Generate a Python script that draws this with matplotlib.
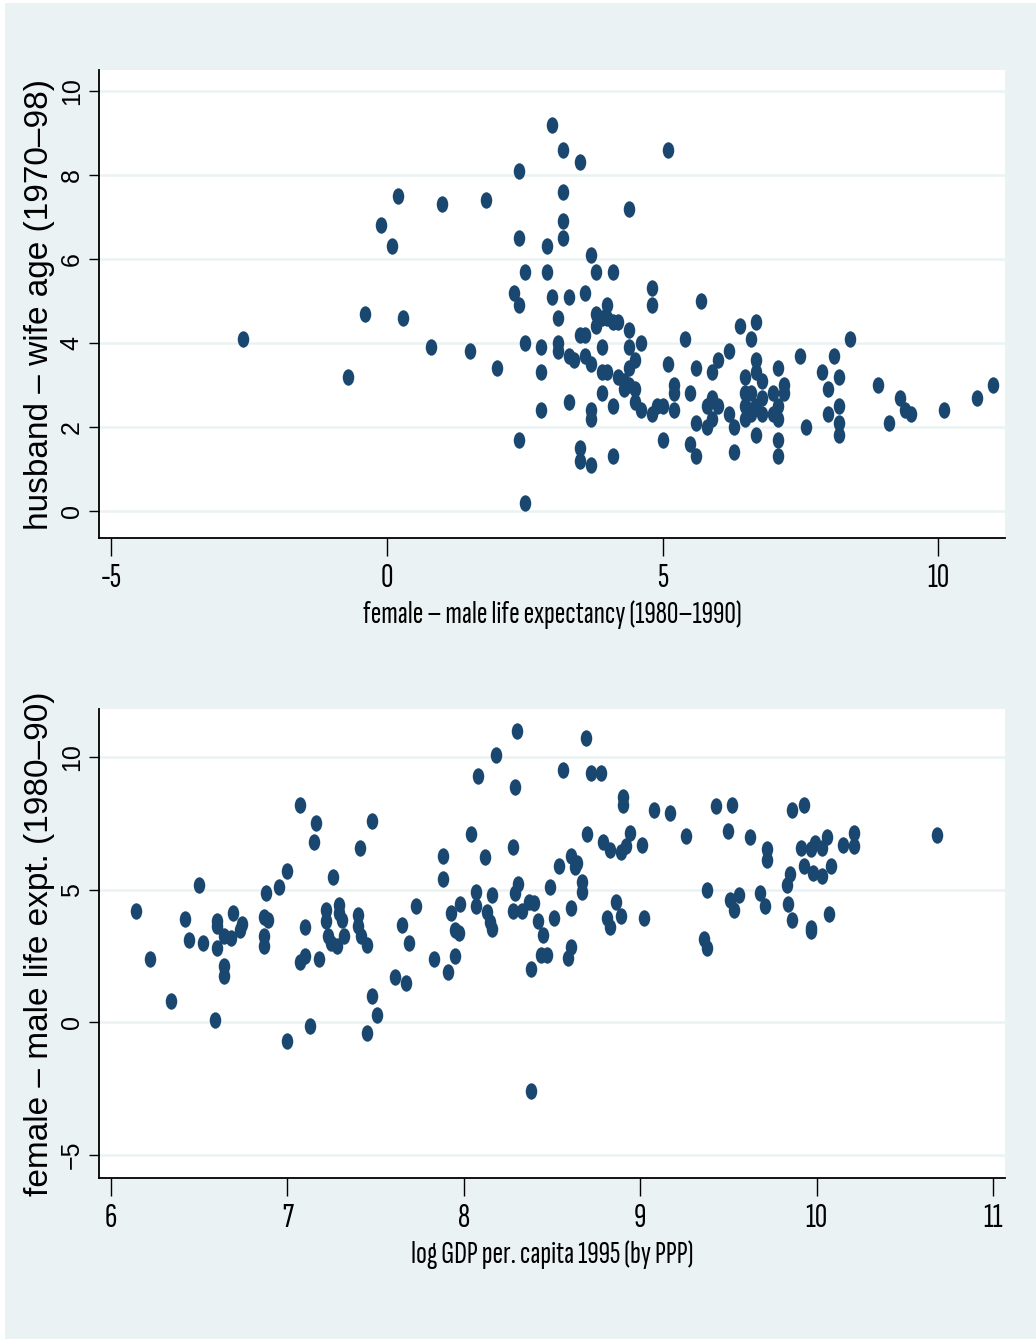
import matplotlib
matplotlib.use('Agg')
import matplotlib.pyplot as plt
from matplotlib.path import Path
from matplotlib.transforms import Affine2D
from matplotlib.patches import Rectangle
from matplotlib import font_manager as fm
from matplotlib.font_manager import FontProperties
from matplotlib.textpath import TextPath

# ---------------- data ----------------
# top panel: female - male life expectancy (x) vs husband - wife age gap (y)
lifeexp_gap_top = [
    -2.6, -0.7, -0.4, -0.1, 0.1, 0.2, 0.3, 0.8, 1.0, 1.5,
    1.8, 2.0, 2.3, 2.4, 2.4, 2.4, 2.5, 2.5, 2.4, 2.5,
    2.8, 2.8, 2.8, 2.9, 2.9, 3.0, 3.0, 3.1, 3.1, 3.1,
    3.2, 3.2, 3.2, 3.2, 3.3, 3.3, 3.3, 3.4, 3.5, 3.5,
    3.5, 3.5, 3.6, 3.6, 3.6, 3.7, 3.7, 3.7, 3.7, 3.8,
    3.8, 3.8, 3.7, 3.9, 3.9, 3.9, 3.9, 4.0, 4.0, 4.1,
    4.1, 4.1, 4.1, 4.2, 4.2, 4.3, 4.3, 4.4, 4.4, 4.4,
    4.4, 4.4, 4.5, 4.5, 4.6, 4.5, 4.6, 4.8, 4.8, 4.8,
    4.9, 5.0, 5.0, 5.1, 5.1, 5.2, 5.2, 5.2, 5.4, 5.5,
    5.5, 5.6, 5.6, 5.6, 5.7, 5.8, 5.8, 5.9, 5.9, 6.0,
    6.0, 5.9, 6.2, 6.2, 6.3, 6.3, 6.4, 6.5, 6.5, 6.5,
    6.5, 6.6, 6.6, 6.6, 6.7, 6.7, 6.7, 6.7, 6.7, 6.8,
    6.8, 6.8, 7.0, 7.0, 7.1, 7.1, 7.1, 7.1, 7.2, 7.2,
    7.5, 7.6, 7.9, 8.0, 8.0, 8.1, 8.2, 8.2, 8.2, 8.2,
    8.4, 8.9, 9.1, 9.3, 9.4, 9.5, 10.1, 10.7, 11.0,
    4.0, 6.6, 7.1,
]
age_gap = [
    4.1, 3.2, 4.7, 6.8, 6.3, 7.5, 4.6, 3.9, 7.3, 3.8,
    7.4, 3.4, 5.2, 4.9, 8.1, 6.5, 5.7, 4.0, 1.7, 0.2,
    3.9, 3.3, 2.4, 6.3, 5.7, 9.2, 5.1, 4.6, 4.0, 3.8,
    8.6, 7.6, 6.9, 6.5, 5.1, 3.7, 2.6, 3.6, 8.3, 4.2,
    1.5, 1.2, 5.2, 4.2, 3.7, 6.1, 2.4, 2.2, 1.1, 5.7,
    4.7, 4.4, 3.5, 4.6, 3.9, 3.3, 2.8, 4.9, 4.6, 5.7,
    4.5, 2.5, 1.3, 4.5, 3.2, 2.9, 3.1, 7.2, 4.3, 3.9,
    3.4, 3.0, 3.6, 2.9, 4.0, 2.6, 2.4, 5.3, 4.9, 2.3,
    2.5, 2.5, 1.7, 8.6, 3.5, 3.0, 2.8, 2.4, 4.1, 2.8,
    1.6, 1.3, 2.1, 3.4, 5.0, 2.0, 2.5, 2.7, 3.3, 3.6,
    2.5, 2.2, 3.8, 2.3, 2.0, 1.4, 4.4, 3.2, 2.8, 2.5,
    2.2, 4.1, 2.8, 2.3, 4.5, 3.6, 3.3, 2.5, 1.8, 3.1,
    2.7, 2.3, 2.8, 2.3, 3.4, 2.2, 1.7, 1.3, 3.0, 2.8,
    3.7, 2.0, 3.3, 2.9, 2.3, 3.7, 3.2, 2.5, 2.1, 1.8,
    4.1, 3.0, 2.1, 2.7, 2.4, 2.3, 2.4, 2.7, 3.0,
    3.3, 2.4, 2.5,
]

# bottom panel: log GDP per capita 1995 (x) vs female - male life expectancy (y)
log_gdp = [
    6.14, 6.22, 6.34, 6.42, 6.44, 6.50, 6.52, 6.59, 6.60, 6.60,
    6.60, 6.64, 6.68, 6.64, 6.64, 6.69, 6.73, 6.74, 6.87, 6.89,
    6.88, 6.87, 6.87, 6.95,
    7.00, 7.07, 7.16, 7.15, 7.26, 7.10, 7.07, 7.10, 7.18, 7.22,
    7.22, 7.29, 7.29, 7.31, 7.23, 7.25, 7.28, 7.32, 7.40, 7.40,
    7.42, 7.45, 7.41, 7.48, 7.13, 7.00, 7.45, 7.48, 7.51, 7.61,
    7.67, 7.65, 7.69, 7.73, 7.83, 7.91, 7.95, 7.93, 7.95, 7.97,
    7.98, 7.88, 7.88,
    8.30, 8.18, 8.08, 8.29, 8.69, 8.56, 8.72, 8.78, 8.90, 8.90,
    9.08, 9.17, 9.43, 8.04, 8.12, 8.28, 8.70, 8.79, 8.83, 8.94,
    8.89, 8.92, 9.01, 9.26, 8.54, 8.61, 8.64, 8.63, 8.67, 8.67,
    8.49, 8.31, 8.29, 8.07, 8.07, 8.16, 8.13, 8.15, 8.16, 8.28,
    8.33, 8.37, 8.40, 8.42, 8.45, 8.51, 8.61, 8.81, 8.83, 8.86,
    8.89, 9.02, 8.44, 8.47, 8.61, 8.59, 8.38, 9.38, 9.36, 9.38,
    8.38,
    9.52, 9.86, 9.93, 9.50, 9.62, 9.72, 9.72, 9.91, 9.97, 9.99,
    10.03, 10.06, 9.93, 9.98, 10.03, 10.08, 10.15, 10.21, 10.21, 10.68,
    9.51, 9.56, 9.53, 9.68, 9.71, 9.83, 9.85, 9.84, 9.86, 9.97,
    9.97, 10.07,
]
lifeexp_gap_bottom = [
    4.18, 2.39, 0.79, 3.89, 3.09, 5.19, 2.99, 0.08, 3.81, 3.62,
    2.80, 3.24, 3.18, 2.11, 1.73, 4.10, 3.49, 3.72, 3.97, 3.87,
    4.87, 3.24, 2.86, 5.09,
    5.69, 8.20, 7.51, 6.78, 5.48, 3.59, 2.26, 2.51, 2.39, 4.25,
    3.81, 4.43, 4.12, 3.87, 3.24, 2.99, 2.86, 3.24, 4.06, 3.62,
    3.24, 2.93, 6.57, 7.58, -0.13, -0.72, -0.40, 0.98, 0.29, 1.70,
    1.48, 3.68, 2.99, 4.37, 2.39, 1.88, 2.49, 4.10, 3.49, 3.37,
    4.47, 6.28, 5.38,
    10.98, 10.08, 9.29, 8.88, 10.69, 9.50, 9.39, 9.39, 8.47, 8.18,
    8.00, 7.88, 8.13, 7.09, 6.22, 6.59, 7.09, 6.80, 6.50, 7.13,
    6.40, 6.63, 6.69, 7.00, 5.90, 6.25, 6.00, 5.84, 5.28, 4.90,
    5.11, 5.21, 4.86, 4.92, 4.40, 4.80, 4.15, 3.77, 3.50, 4.21,
    4.21, 4.55, 4.50, 3.83, 3.30, 3.93, 4.31, 3.92, 3.58, 4.55,
    4.00, 3.92, 2.52, 2.52, 2.83, 2.42, 2.02, 5.00, 3.15, 2.79,
    -2.59,
    8.17, 7.98, 8.18, 7.20, 6.98, 6.51, 6.13, 6.57, 6.51, 6.76,
    6.57, 6.98, 5.88, 5.63, 5.50, 5.88, 6.67, 7.14, 6.63, 7.07,
    4.62, 4.81, 4.25, 4.87, 4.37, 5.19, 5.60, 4.47, 3.87, 3.56,
    3.43, 4.08,
]

top_xticks = [-5, 0, 5, 10]
top_xticklabels = ['-5', '0', '5', '10']
top_yticks = [0, 2, 4, 6, 8, 10]
top_yticklabels = ['0', '2', '4', '6', '8', '10']
bot_xticks = [6, 7, 8, 9, 10, 11]
bot_xticklabels = ['6', '7', '8', '9', '10', '11']
bot_yticks = [-5, 0, 5, 10]
bot_yticklabels = ['\u22125', '0', '5', '10']

top_xlabel = "female \u2013 male life expectancy (1980\u20131990)"
top_ylabel = "husband \u2013 wife age (1970\u201398)"
bot_xlabel = "log GDP per. capita 1995 (by PPP)"
bot_ylabel = "female \u2013 male life expt. (1980\u201390)"

# ---------------- style ----------------
BG = '#EAF2F3'
NAVY = '#1A476F'


def text_width_px(s, fname, size):
    tp = TextPath((0, 0), s, prop=FontProperties(fname=fname, size=size))
    return tp.get_extents().width * 100.0 / 72.0


# pick the most condensed proportional regular sans face available for the x-axis texts
cands = []
seen = set()
for f in fm.fontManager.ttflist:
    nm = f.name
    fn = f.fname
    low = (nm + ' ' + fn).lower()
    if not ('condensed' in low or 'narrow' in low or
            str(f.stretch) in ('condensed', 'extra-condensed', 'ultra-condensed', 'semi-condensed')):
        continue
    if any(k in low for k in ('mono', 'serif', 'cjk', 'math', 'italic', 'bold', 'light',
                              'thin', 'black', 'medium', 'semibold', 'extrabold', 'code',
                              'console', 'typewriter')):
        continue
    if f.style != 'normal' or f.weight not in (400, 'normal', 'regular', 'book'):
        continue
    if fn in seen:
        continue
    seen.add(fn)
    cands.append(fn)
    if len(cands) >= 30:
        break

measured = []
for fn in cands:
    try:
        wi = text_width_px("iiiiiiii", fn, 20)
        wm = text_width_px("MMMMMMMM", fn, 20)
        if wm <= 0 or wi / wm > 0.55:   # skip monospaced faces
            continue
        w = text_width_px("expectancy 1990", fn, 20)
    except Exception:
        continue
    if w > 0:
        measured.append((w, fn))
measured.sort()
narrow_path = measured[0][1] if measured else None

TARGET_XLABEL_W = 377.0
if narrow_path:
    w20 = text_width_px(top_xlabel, narrow_path, 20)
    xsize = 20 * TARGET_XLABEL_W / w20
    XT_FP = FontProperties(fname=narrow_path, size=xsize * 1.08)
    XL_FP = FontProperties(fname=narrow_path, size=xsize)
else:
    XT_FP = FontProperties(family='Liberation Sans', size=16)
    XL_FP = FontProperties(family='Liberation Sans', size=14)
YT_FP = FontProperties(family='Liberation Sans', size=18)
YL_FP = FontProperties(family='Liberation Sans', size=24)

W, H = 1036, 1339
fig = plt.figure(figsize=(W / 100, H / 100), dpi=100, facecolor='white')
fig.add_artist(Rectangle((5 / W, 0), 1 - 5 / W, 1 - 3 / H, transform=fig.transFigure,
                         facecolor=BG, edgecolor='none', zorder=-10))

ellipse = Path.unit_circle().transformed(Affine2D().scale(0.7, 1.0))


def make_axes(rect, xs, ys, xlim, ylim, xticks, xtl, yticks, ytl, xlabel, ylabel):
    ax = fig.add_axes(rect)
    ax.set_facecolor('white')
    ax.scatter(xs, ys, s=140, marker=ellipse, color=NAVY, linewidths=0, zorder=3)
    ax.set_xlim(*xlim)
    ax.set_ylim(*ylim)
    ax.set_xticks(xticks)
    ax.set_xticklabels(xtl, fontproperties=XT_FP)
    ax.set_yticks(yticks)
    ax.set_yticklabels(ytl, fontproperties=YT_FP, rotation=90, va='center')
    ax.yaxis.grid(True, color=BG, lw=1.8)
    ax.xaxis.grid(False)
    ax.set_axisbelow(True)
    for s in ('top', 'right'):
        ax.spines[s].set_visible(False)
    for s in ('left', 'bottom'):
        ax.spines[s].set_color('black')
        ax.spines[s].set_linewidth(1.3)
    ax.tick_params(axis='x', length=13, width=1.0, pad=5, color='black')
    ax.tick_params(axis='y', length=7, width=1.0, pad=4, color='black')
    ax.set_xlabel(xlabel, fontproperties=XL_FP, labelpad=5)
    ax.set_ylabel(ylabel, fontproperties=YL_FP)
    # right edge of the rotated y label a little left of the tick labels
    ax.yaxis.set_label_coords((55 - 99) / (1005 - 99), 0.5)
    return ax


# pixel geometry -> figure fractions
top_rect = [99 / W, 1 - 538 / H, (1005 - 99) / W, (538 - 70) / H]
bot_rect = [99 / W, 1 - 1178 / H, (1005 - 99) / W, (1178 - 709) / H]

make_axes(top_rect, lifeexp_gap_top, age_gap, (-5.22, 11.21), (-0.64, 10.5),
          top_xticks, top_xticklabels, top_yticks, top_yticklabels, top_xlabel, top_ylabel)
make_axes(bot_rect, log_gdp, lifeexp_gap_bottom, (5.932, 11.068), (-5.86, 11.8),
          bot_xticks, bot_xticklabels, bot_yticks, bot_yticklabels, bot_xlabel, bot_ylabel)

fig.savefig('out.png', dpi=100, facecolor=fig.get_facecolor())
